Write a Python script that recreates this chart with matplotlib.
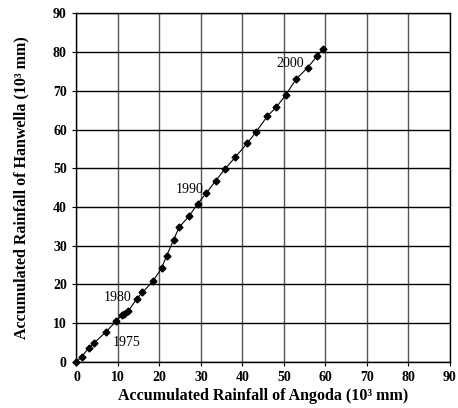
import matplotlib
matplotlib.use("Agg")
import matplotlib.pyplot as plt
import numpy as np

# Accumulated rainfall (10^3 mm), one point per year 1970-2000
angoda = [0.0, 1.25, 3.0, 4.2, 7.1, 9.5, 10.9, 11.5, 12.5, 14.5, 15.9,
          18.5, 20.5, 21.7, 23.4, 24.7, 27.1, 29.2, 31.3, 33.5, 35.7,
          38.3, 41.1, 43.3, 46.0, 48.1, 50.4, 52.9, 55.7, 58.0, 59.5]
hanwella = [0.0, 1.3, 3.6, 4.8, 7.7, 10.4, 12.0, 12.3, 13.1, 16.2, 17.9,
            20.9, 24.2, 27.3, 31.5, 34.7, 37.6, 40.8, 43.6, 46.7, 49.7,
            52.9, 56.4, 59.4, 63.5, 65.7, 68.9, 73.0, 76.0, 79.0, 80.9]

etiquetas = ["1975", "1980", "1990", "2000"]
etiq_x = [8.8, 6.5, 23.8, 48.2]
etiq_y = [3.2, 15.0, 42.8, 75.3]

ticks = list(range(0, 91, 10))

plt.rcParams["font.family"] = ["Liberation Serif", "DejaVu Serif"]

fig = plt.figure(figsize=(4.58, 4.08), dpi=100)
ax = fig.add_axes([0.167, 0.1135, 0.8155, 0.8535])

ax.plot(angoda, hanwella, color="black", linewidth=0.8,
        marker="D", markersize=3.5, markerfacecolor="black",
        markeredgecolor="black", zorder=3, clip_on=False)

for txt, tx, ty in zip(etiquetas, etiq_x, etiq_y):
    ax.text(tx, ty, txt, fontsize=10, ha="left", va="bottom")

ax.set_xlim(0, 90)
ax.set_ylim(0, 90)
ax.set_xticks(ticks)
ax.set_yticks(ticks)
ax.set_xticklabels([str(t) for t in ticks], fontweight="bold", fontsize=10)
ax.set_yticklabels([str(t) for t in ticks], fontweight="bold", fontsize=10)
ax.tick_params(direction="out", length=3, width=0.8, pad=4)

ax.grid(axis="x", color="#555555", linewidth=1.0)
ax.grid(axis="y", color="black", linewidth=1.0)
for s in ax.spines.values():
    s.set_linewidth(1.0)

ax.set_xlabel("Accumulated Rainfall of Angoda (10³ mm)",
              fontweight="bold", fontsize=11.5, labelpad=2.5)
ax.set_ylabel("Accumulated Rainfall of Hanwella (10³ mm)",
              fontweight="bold", fontsize=11.5, labelpad=17)

plt.savefig("out.png", dpi=100)
plt.close()
